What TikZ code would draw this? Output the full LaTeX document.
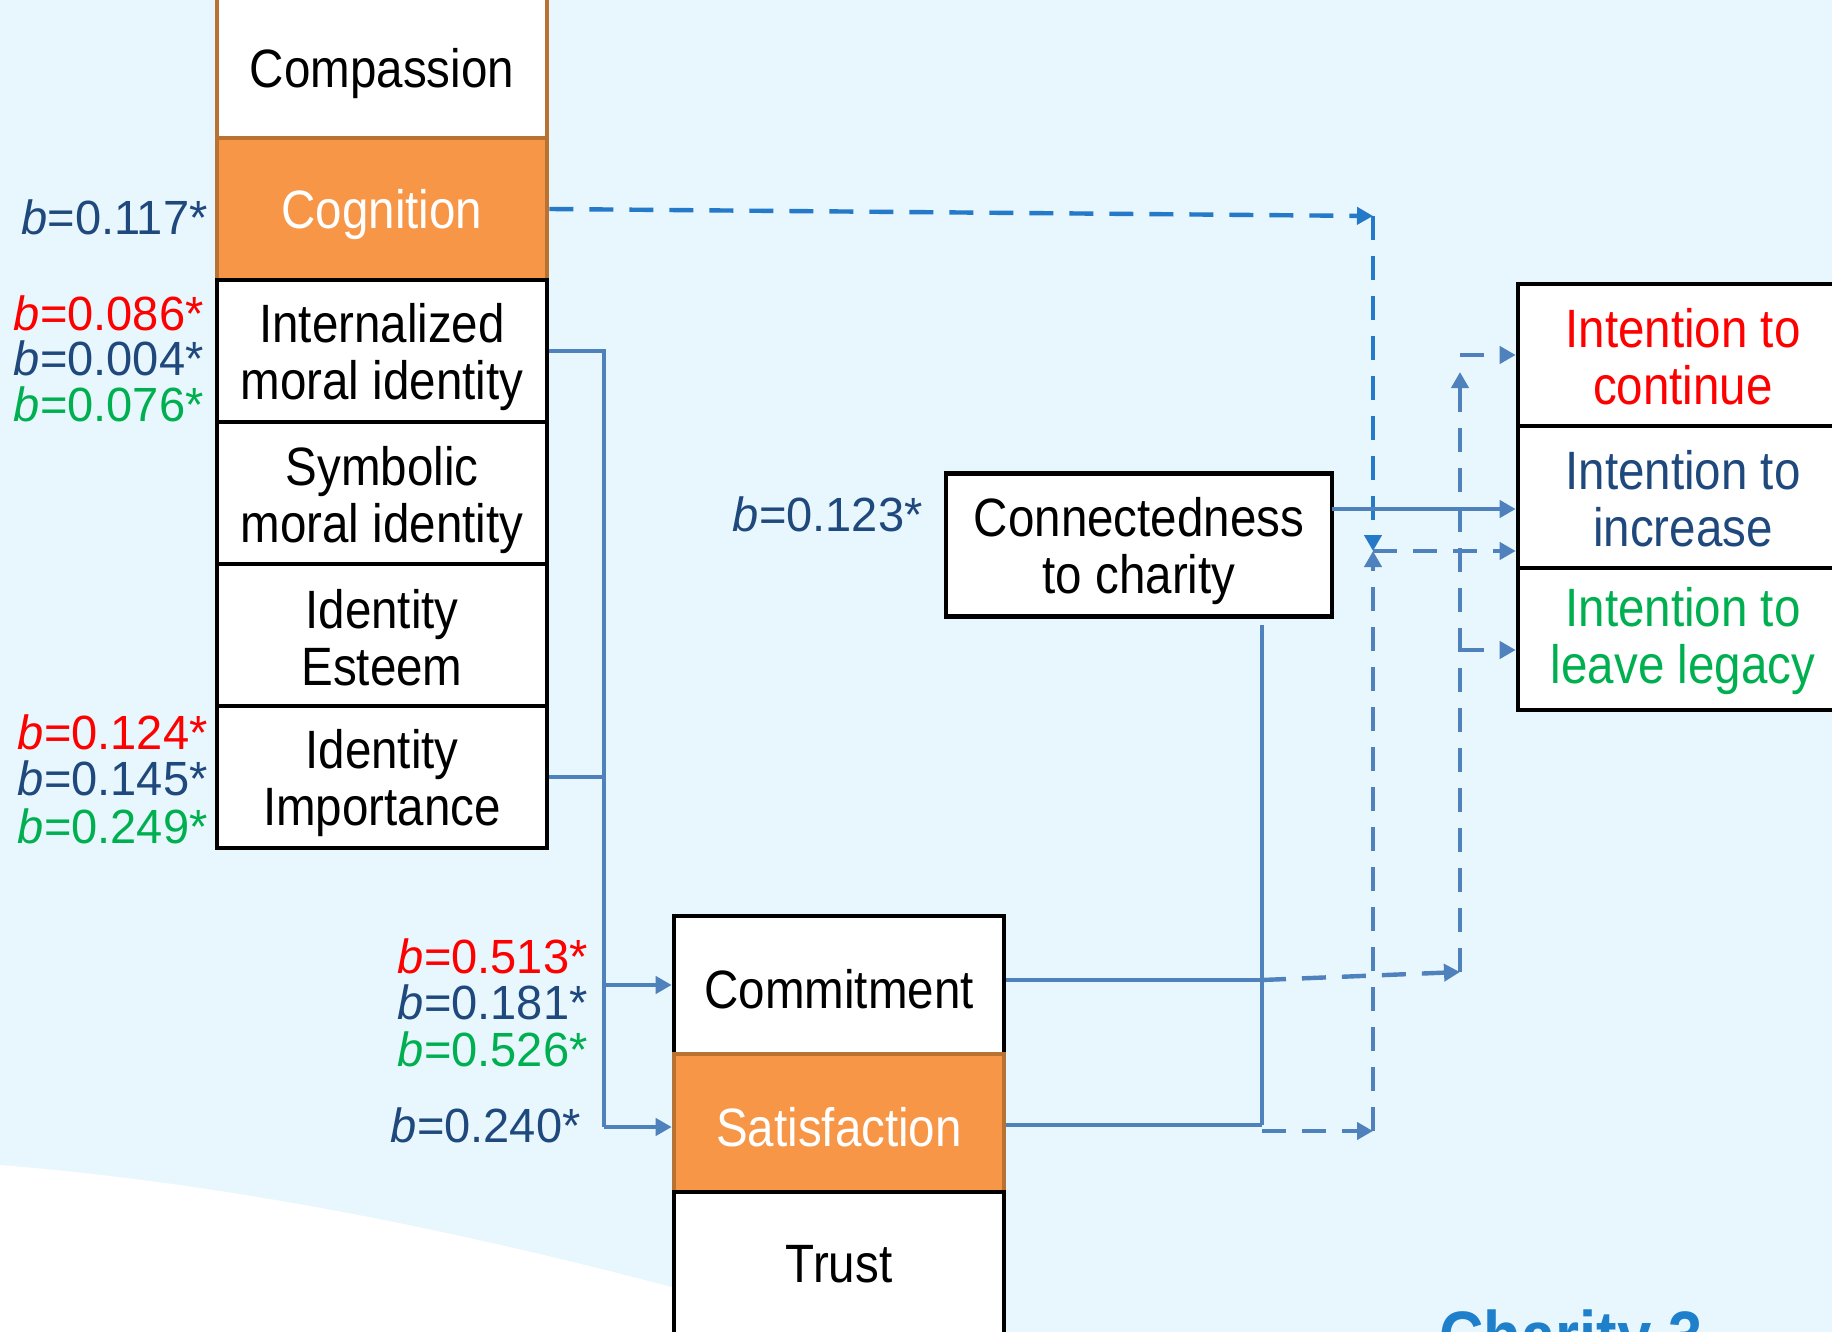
\documentclass[tikz,border=0pt]{standalone}
\usepackage{fontspec}
\setmainfont{Liberation Sans}
\newfontfamily\bxfont{Liberation Sans}[FakeStretch=0.88]
\newfontfamily\lbfont{Liberation Sans}[FakeStretch=0.98]
\usetikzlibrary{arrows.meta}
\definecolor{bgblue}{HTML}{E8F6FD}
\definecolor{orfill}{HTML}{F79646}
\definecolor{oredge}{HTML}{B87333}
\definecolor{cblue}{HTML}{4F81BD}
\definecolor{cogblue}{HTML}{2479C8}
\definecolor{dkblue}{HTML}{1F497D}
\definecolor{lred}{HTML}{FF0000}
\definecolor{lgreen}{HTML}{00B050}
\definecolor{titleblue}{HTML}{1E7FCB}
\begin{document}
\begin{tikzpicture}[x=0.5pt,y=-0.5pt,
  box/.style={draw=black, line width=2.3pt, fill=white, minimum width=165pt, minimum height=71pt,
    inner sep=0pt},
  obox/.style={box, draw=oredge, fill=orfill},
  btxt/.style={inner sep=0pt, align=center, text=black, yshift=-3pt, font=\bxfont\fontsize{27}{28.5}\selectfont},
  lbl/.style={anchor=base east, inner sep=0pt, font=\lbfont\fontsize{24}{24}\selectfont},
  conn/.style={draw=cblue, line width=2.2pt},
  dconn/.style={conn, dash pattern=on 12pt off 8pt},
  arr/.style={-{Triangle[length=8pt,width=8.5pt]}}]
\useasboundingbox (0,0) rectangle (1832,1332);
\clip (0,0) rectangle (1832,1332);
% background
\fill[bgblue] (0,0) rectangle (1832,1332);
\fill[white] (0,1165) .. controls (250,1185) and (500,1240) .. (720,1300) -- (820,1332) -- (0,1332) -- cycle;

% left column
\node[obox, fill=white] (comp) at (382,67) {};
\node[obox] (cog) at (382,209) {};
\node[box] (int) at (382,351) {};
\node[box] (sym) at (382,493) {};
\node[box] (est) at (382,635) {};
\node[box] (imp) at (382,777) {};
\node[btxt, yshift=-0.5pt] (compT) at (comp.center) {Compassion};
\node[btxt, text=white] (cogT) at (cog.center) {Cognition};
\node[btxt] (intT) at (int.center) {Internalized\\moral identity};
\node[btxt, yshift=-0.5pt] (symT) at (sym.center) {Symbolic\\moral identity};
\node[btxt, yshift=1.5pt] (estT) at (est.center) {Identity\\Esteem};
\node[btxt] (impT) at (imp.center) {Identity\\Importance};

% middle column
\node[box, minimum height=69pt] (com) at (839,985) {};
\node[obox, minimum height=69pt] (sat) at (839,1123) {};
\node[box, minimum height=71pt] (tru) at (839,1263) {};
\node[btxt, yshift=1pt] (comT) at (com.center) {Commitment};
\node[btxt, yshift=1pt, text=white] (satT) at (sat.center) {Satisfaction};
\node[btxt, yshift=2.5pt] (truT) at (tru.center) {Trust};

% connectedness
\node[box, minimum width=193pt, minimum height=71.5pt] (cn) at (1139,545) {};
\node[btxt] (cnT) at (cn.center) {Connectedness\\to charity};

% right column
\node[box] (cont) at (1683,355) {};
\node[box] (inc) at (1683,497) {};
\node[box] (leg) at (1683,639) {};
\node[btxt, yshift=2pt, text=lred] (contT) at (cont.center) {Intention to\\continue};
\node[btxt, yshift=2pt, text=dkblue] (incT) at (inc.center) {Intention to\\increase};
\node[btxt, yshift=2pt, text=lgreen] (legT) at (leg.center) {Intention to\\leave legacy};

% labels
\node[lbl, text=dkblue] (l117) at (208,235) {{\itshape b}=0.117*};
\node[lbl, text=lred] (l086) at (204,330) {{\itshape b}=0.086*};
\node[lbl, text=dkblue] (l004) at (204,375) {{\itshape b}=0.004*};
\node[lbl, text=lgreen] (l076) at (204,422) {{\itshape b}=0.076*};
\node[lbl, text=lred] (l124) at (208,749) {{\itshape b}=0.124*};
\node[lbl, text=dkblue] (l145) at (208,795) {{\itshape b}=0.145*};
\node[lbl, text=lgreen] (l249) at (208,843) {{\itshape b}=0.249*};
\node[lbl, text=lred] (l513) at (588,973) {{\itshape b}=0.513*};
\node[lbl, text=dkblue] (l181) at (588,1019) {{\itshape b}=0.181*};
\node[lbl, text=lgreen] (l526) at (588,1066) {{\itshape b}=0.526*};
\node[lbl, text=dkblue] (l240) at (581,1142) {{\itshape b}=0.240*};
\node[lbl, text=dkblue] (l123) at (923,531) {{\itshape b}=0.123*};

\node[anchor=base west, inner sep=0pt, text=titleblue, font=\bxfont\bfseries\fontsize{35}{35}\selectfont] (title) at (1439,1360) {Charity 3};

% coordinates
\coordinate (brTop) at (604,351);
\coordinate (brBot) at (604,1127);
\coordinate (cogCorner) at (1373,216);
\coordinate (incJoin) at (1373,551);
\coordinate (satJ) at (1262,1125);
\coordinate (satD) at (1262,1131);
\coordinate (satCorner) at (1373,1131);
\coordinate (comJ) at (1262,980);
\coordinate (comCorner) at (1460,972);
\coordinate (comTop) at (1460,372);
\coordinate (contJ) at (1460,355);
\coordinate (legJ) at (1460,650);
\coordinate (cnDrop) at (1262,625);
\coordinate (cnOut) at (1332,509);

% bracket from moral identity boxes
\draw[conn] (int.east) -- (brTop) -- (brBot);
\draw[conn] (imp.east) -- (brTop |- imp.east);
\draw[conn,arr] (brTop |- com.west) -- (com.west);
\draw[conn,arr] (brBot) -- (brBot -| sat.west);

% cognition path
\draw[dconn, draw=cogblue, arr] (cog.east) -- (cogCorner);
\draw[dconn, draw=cogblue, arr] (cogCorner) -- (incJoin);
\draw[dconn, arr] (incJoin) -- (incJoin -| inc.west);

% satisfaction path
\draw[conn] (satJ -| sat.east) -- (satJ);
\draw[dconn, arr] (satD) -- (satCorner);
\draw[dconn, arr] (satCorner) -- (incJoin);

% commitment path
\draw[conn] (comJ -| com.east) -- (comJ);
\draw[dconn, arr] (comJ) -- (comCorner);
\draw[dconn, arr] (comCorner) -- (comTop);
\draw[dconn, arr] (contJ) -- (cont.west);
\draw[dconn, arr] (legJ) -- (legJ -| leg.west);

% connectedness
\draw[conn] (cnDrop) -- (satJ);
\draw[conn, arr] (cnOut) -- (cnOut -| inc.west);
\end{tikzpicture}
\end{document}
